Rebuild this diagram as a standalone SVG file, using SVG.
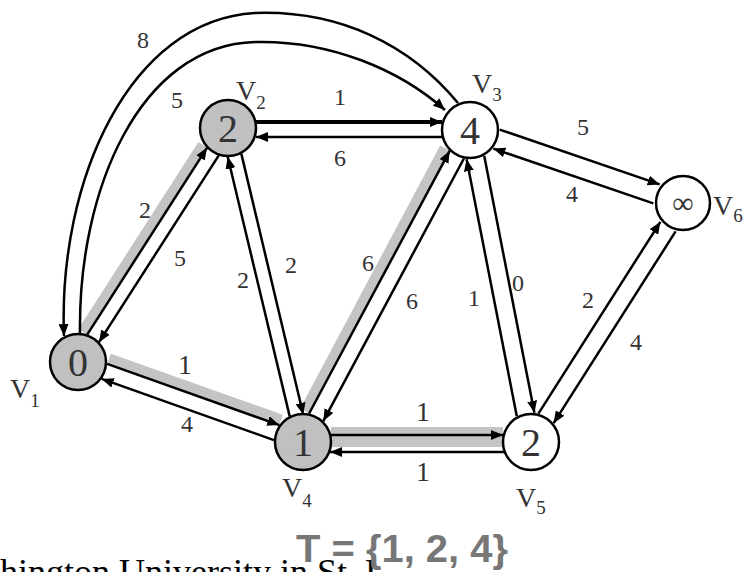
<svg xmlns="http://www.w3.org/2000/svg" width="755" height="572" viewBox="0 0 755 572">
<defs>
<marker id="ah" viewBox="0 0 12 10" refX="12" refY="5" markerWidth="12" markerHeight="10" orient="auto" markerUnits="userSpaceOnUse"><path d="M0,0 L12,5 L0,10 z" fill="#000"/></marker>
<style>
.e{fill:none;stroke:#000;stroke-width:2.5;marker-end:url(#ah)}
.band{fill:none;stroke:#c4c4c4;stroke-width:11}
.g{fill:#c0c0c0;stroke:#000;stroke-width:2.5}
.w{fill:#fff;stroke:#000;stroke-width:2.5}
.d{font-family:"Liberation Serif",serif;font-size:40px;fill:#333;text-anchor:middle}
.vl{font-family:"Liberation Serif",serif;font-size:28px;fill:#333}
.sub{font-size:19px}
.lb{font-family:"Liberation Serif",serif;font-size:24px;fill:#333;text-anchor:middle}
</style>
</defs>
<rect width="755" height="572" fill="#fff"/>
<g id="connectors">
<path class="band" d="M83,332 L203,145"/>
<path class="band" d="M305,411 L445,148"/>
<path class="band" d="M109,359 L281,420"/>
<path class="band" d="M331,437 L503,437" style="stroke-width:20"/>
<path class="e" d="M87.2,334.6 L207,147.8"/>
<path class="e" d="M218.8,155.4 L99,342.2"/>
<path class="e" d="M289.7,416.4 L227.7,156.8"/>
<path class="e" d="M241.3,153.6 L303.3,414.8"/>
<path class="e" d="M256,122 L442,122" style="stroke-width:4"/>
<path class="e" d="M442,137 L256,137"/>
<path class="e" d="M80,333 C78,190 140,45 255,42 C330,40 400,70 445,110"/>
<path class="e" d="M458,103 C410,45 340,10 255,13 C130,20 58,180 64,336"/>
<path class="e" d="M499.7,129.6 L659.7,184.4"/>
<path class="e" d="M653.3,203.4 L493.3,148.6"/>
<path class="e" d="M309.1,413.5 L449.7,150.9"/>
<path class="e" d="M463.9,158.5 L323.3,421.1"/>
<path class="e" d="M516.8,416.2 L466.6,159.2"/>
<path class="e" d="M484.2,155.8 L534.4,412.8"/>
<path class="e" d="M331,435 L503,435"/>
<path class="e" d="M505,452 L330,452"/>
<path class="e" d="M107.1,363.9 L279.3,425.1"/>
<path class="e" d="M273.9,440.1 L101.7,378.9"/>
<path class="e" d="M538.4,413.6 L660.4,221.8"/>
<path class="e" d="M675.6,231.4 L553.6,423.2"/>
<text class="lb" x="145" y="218">2</text>
<text class="lb" x="180" y="266">5</text>
<text class="lb" x="243" y="288">2</text>
<text class="lb" x="291" y="273">2</text>
<text class="lb" x="340" y="105">1</text>
<text class="lb" x="340" y="166">6</text>
<text class="lb" x="143" y="48">8</text>
<text class="lb" x="177" y="108">5</text>
<text class="lb" x="583" y="135">5</text>
<text class="lb" x="572" y="202">4</text>
<text class="lb" x="368" y="271">6</text>
<text class="lb" x="412" y="309">6</text>
<text class="lb" x="474" y="306">1</text>
<text class="lb" x="518" y="291">0</text>
<text class="lb" x="423" y="421" style="font-size:28px">1</text>
<text class="lb" x="423" y="481" style="font-size:28px">1</text>
<text class="lb" x="185" y="374" style="font-size:28px">1</text>
<text class="lb" x="187" y="432">4</text>
<text class="lb" x="588" y="308">2</text>
<text class="lb" x="636" y="350">4</text>
</g>
<g id="v1"><circle class="g" cx="78" cy="362" r="28"/><text class="d" x="78" y="376">0</text><text class="vl" x="10" y="398">V<tspan class="sub" dy="9">1</tspan></text></g>
<g id="v2"><circle class="g" cx="228" cy="128" r="28"/><text class="d" x="228" y="142">2</text><text class="vl" x="236" y="100">V<tspan class="sub" dy="9">2</tspan></text></g>
<g id="v3"><circle class="w" cx="470" cy="130" r="28"/><text class="d" x="470" y="144">4</text><text class="vl" x="472" y="93">V<tspan class="sub" dy="8">3</tspan></text></g>
<g id="v4"><circle class="g" cx="303" cy="442" r="28"/><text class="d" x="303" y="456">1</text><text class="vl" x="282" y="497">V<tspan class="sub" dy="10">4</tspan></text></g>
<g id="v5"><circle class="w" cx="531" cy="442" r="28"/><text class="d" x="531" y="456">2</text><text class="vl" x="516" y="507">V<tspan class="sub" dy="7">5</tspan></text></g>
<g id="v6"><circle class="w" cx="683" cy="203" r="27"/><text class="d" x="683" y="213" style="font-size:30px">∞</text><text class="vl" x="713" y="215">V<tspan class="sub" dy="7">6</tspan></text></g>
<text x="0" y="584" style="font-family:'Liberation Serif',serif;font-size:36px;fill:#000">hington University in St. L</text>
<text x="296" y="562" style="font-family:'Liberation Sans',sans-serif;font-size:38px;font-weight:bold;fill:#777" textLength="212" lengthAdjust="spacingAndGlyphs">T = {1, 2, 4}</text>
</svg>
